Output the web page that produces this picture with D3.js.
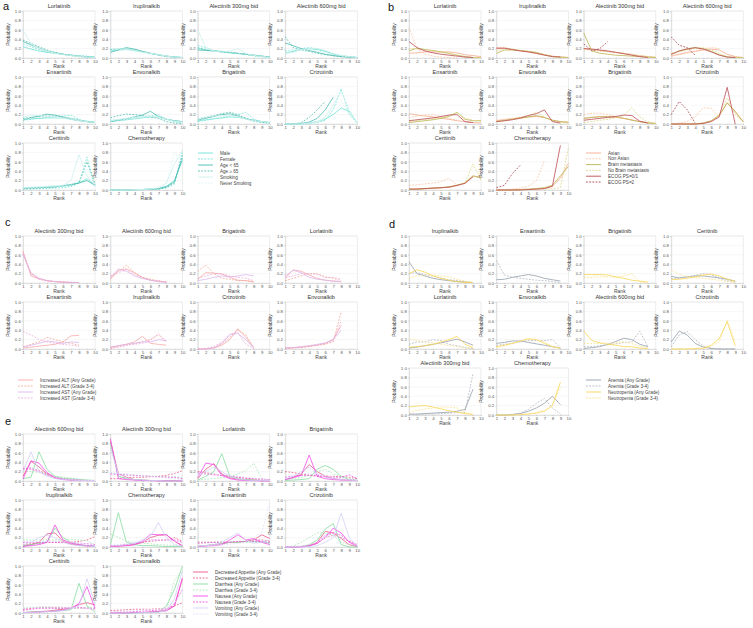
<!DOCTYPE html>
<html><head><meta charset="utf-8">
<script src="https://cdn.jsdelivr.net/npm/d3@7/dist/d3.min.js"></script>
<style>body{margin:0;background:#fff}svg{display:block;font-family:"Liberation Sans",Arial,sans-serif}</style>
</head><body><svg id="chart" width="753" height="628"></svg>
<script>
// ---------- tick labels ----------
const rankTicks = [1,2,3,4,5,6,7,8,9,10];
const probTicks = [0,0.2,0.4,0.6,0.8,1.0];

// ---------- panel a : subgroups ----------
const aDrugs = ["Lorlatinib","Iruplinalkib","Alectinib 300mg bid","Alectinib 600mg bid","Ensartinib","Envonalkib","Brigatinib","Crizotinib","Ceritinib","Chemotherapy"];
const aNames = ["Male","Female","Age < 65","Age \u2265 65","Smoking","Never Smoking"];
const aMale = [[0.24,0.19,0.15,0.12,0.10,0.08,0.06,0.04,0.03,0.02],[0.15,0.17,0.18,0.16,0.13,0.10,0.07,0.04,0.02,0.01],[0.20,0.17,0.15,0.13,0.11,0.10,0.08,0.06,0.04,0.02],[0.10,0.14,0.18,0.20,0.18,0.14,0.08,0.05,0.03,0.01],[0.10,0.11,0.12,0.13,0.13,0.13,0.12,0.08,0.06,0.04],[0.05,0.07,0.09,0.11,0.13,0.15,0.14,0.10,0.07,0.05],[0.07,0.09,0.11,0.13,0.15,0.14,0.12,0.08,0.05,0.03],[0,0,0,0.02,0.05,0.10,0.20,0.34,0.27,0.02],[0.04,0.05,0.05,0.06,0.07,0.09,0.11,0.15,0.24,0.10],[0,0,0,0.01,0.01,0.02,0.03,0.08,0.20,0.63]];
const aFemale = [[0.30,0.24,0.18,0.13,0.10,0.08,0.06,0.05,0.04,0.02],[0.18,0.19,0.20,0.17,0.14,0.10,0.06,0.04,0.02,0.01],[0.27,0.22,0.16,0.13,0.11,0.09,0.07,0.05,0.03,0.02],[0.15,0.15,0.20,0.22,0.20,0.15,0.08,0.04,0.02,0.01],[0.08,0.10,0.12,0.14,0.15,0.17,0.19,0.10,0.05,0.03],[0.07,0.09,0.11,0.13,0.15,0.17,0.20,0.10,0.05,0.02],[0.05,0.08,0.11,0.14,0.17,0.20,0.25,0.10,0.05,0.02],[0,0,0,0.01,0.03,0.08,0.30,0.75,0.20,0.02],[0.02,0.02,0.03,0.03,0.04,0.05,0.07,0.15,0.70,0.10],[0,0,0,0,0.01,0.01,0.02,0.05,0.12,0.82]];
const aAgeLow = [[0.35,0.28,0.21,0.15,0.11,0.08,0.06,0.04,0.02,0.01],[0.12,0.17,0.22,0.19,0.14,0.10,0.07,0.04,0.02,0.01],[0.17,0.16,0.15,0.13,0.12,0.10,0.08,0.06,0.04,0.02],[0.32,0.26,0.20,0.16,0.12,0.08,0.05,0.03,0.02,0.01],[0.09,0.13,0.17,0.21,0.19,0.15,0.10,0.07,0.05,0.03],[0.05,0.08,0.11,0.15,0.19,0.27,0.16,0.10,0.07,0.05],[0.08,0.12,0.16,0.20,0.22,0.17,0.11,0.08,0.05,0.03],[0,0,0.01,0.04,0.12,0.30,0.57],[0.04,0.05,0.05,0.06,0.07,0.09,0.12,0.15,0.20,0.10],[0,0,0,0.01,0.01,0.02,0.03,0.07,0.18,0.68]];
const aAgeHigh = [[0.38,0.31,0.24,0.17,0.12,0.08,0.05,0.03,0.02,0.01],[0.17,0.19,0.21,0.18,0.14,0.10,0.06,0.03,0.02,0.01],[0.22,0.18,0.16,0.14,0.12,0.10,0.08,0.05,0.03,0.02],[0.45,0.22,0.17,0.14,0.10,0.07,0.05,0.03,0.02,0.01],[0.12,0.14,0.16,0.17,0.17,0.15,0.12,0.08,0.05,0.03],[0.13,0.18,0.21,0.20,0.18,0.15,0.12,0.05,0.02,0.01],[0.10,0.14,0.18,0.22,0.25,0.20,0.12,0.06,0.03,0.02],[0,0,0.03,0.14,0.30,0.48],[0.03,0.03,0.04,0.05,0.06,0.08,0.10,0.15,0.60,0.12],[0,0,0,0,0.01,0.01,0.02,0.05,0.15,0.75]];
const aSmoking = [[0.60,0.30,0.20,0.15,0.10,0.07,0.05,0.03,0.02,0.01],[0.20,0.20,0.18,0.15,0.12,0.10,0.07,0.04,0.02,0.01],[0.60,0.22,0.15,0.12,0.15,0.20,0.10,0.05,0.03,0.01],[0.10,0.12,0.18,0.20,0.20,0.16,0.10,0.05,0.03,0.01],[0.15,0.18,0.18,0.17,0.15,0.12,0.10,0.07,0.05,0.03],[0.08,0.10,0.12,0.14,0.16,0.17,0.14,0.10,0.06,0.04],[0.12,0.15,0.17,0.18,0.18,0.15,0.10,0.07,0.05,0.03],[0,0,0,0.02,0.05,0.15,0.40,0.70,0.30,0.02],[0.05,0.06,0.07,0.08,0.09,0.10,0.20,0.75,0.30,0.10],[0,0,0,0.01,0.01,0.02,0.05,0.15,0.55,0.85]];
const aNever = [[0.30,0.25,0.20,0.15,0.10,0.08,0.06,0.04,0.02,0.01],[0.16,0.18,0.20,0.17,0.13,0.10,0.07,0.04,0.02,0.01],[0.25,0.20,0.15,0.13,0.12,0.10,0.08,0.06,0.03,0.02],[0.20,0.18,0.18,0.18,0.15,0.12,0.08,0.05,0.03,0.01],[0.10,0.12,0.14,0.15,0.15,0.14,0.12,0.08,0.05,0.04],[0.06,0.08,0.10,0.12,0.14,0.16,0.15,0.10,0.06,0.04],[0.08,0.10,0.12,0.15,0.17,0.16,0.12,0.08,0.05,0.03],[0,0,0,0.01,0.04,0.12,0.35,0.50,0.20,0.02],[0.04,0.05,0.05,0.06,0.07,0.08,0.12,0.20,0.45,0.10],[0,0,0,0,0.01,0.02,0.04,0.12,0.80,0.60]];

// ---------- panel b : subgroups ----------
const bDrugs = aDrugs;
const bNames = ["Asian","Non Asian","Brain metastasis","No Brain metastasis","ECOG PS=0/1","ECOG PS=2"];
const bAsian = [[0.10,0.11,0.13,0.13,0.13,0.13,0.11,0.07,0.05,0.03],[0.20,0.20,0.18,0.16,0.13,0.10,0.07,0.04,0.02,0.01],[0.20,0.18,0.16,0.14,0.12,0.10,0.07,0.05,0.03,0.01],[0.05,0.08,0.12,0.14,0.17,0.19,0.17,0.08,0.03,0.01],[0.22,0.19,0.17,0.15,0.12,0.10,0.07,0.05,0.03,0.02],[0.07,0.09,0.11,0.13,0.15,0.16,0.14,0.08,0.05,0.03],[0.12,0.14,0.16,0.15,0.14,0.12,0.09,0.05,0.03,0.01],[0,0,0,0,0.02,0.06,0.18,0.45,0.25,0.05],[0.02,0.02,0.03,0.04,0.05,0.06,0.09,0.15,0.30,0.25],[0,0,0,0.01,0.01,0.02,0.03,0.08,0.25,0.57]];
const bNonAsian = [[0.65,0.20,0.08,0.04,0.02,0.01,0.00],[0.22,0.23,0.18,0.15,0.12,0.09,0.06],[0.18,0.17,0.15,0.14,0.12,0.10,0.07],[0.03,0.07,0.10,0.15,0.20,0.22,0.20],[0.13,0.17,0.19,0.20,0.16,0.12,0.08],[0.08,0.10,0.12,0.14,0.16,0.17,0.13],[0.20,0.23,0.23,0.20,0.16,0.12,0.08],[0,0.02,0.05,0.15,0.35,0.33,0.15],[0.10,0.11,0.13,0.15,0.18,0.25,0.10],[0,0.01,0.02,0.04,0.08,0.20,0.62]];
const bBrain = [[0.15,0.21,0.18,0.16,0.13,0.10,0.06,0.03,0.01,0.01],[0.10,0.17,0.17,0.16,0.14,0.12,0.07,0.03,0.02,0.01],[0.53,0.15,0.10,0.08,0.06,0.05,0.04,0.03,0.02,0.01],[0.08,0.15,0.20,0.22,0.20,0.14,0.07,0.02,0.01,0.01],[0.03,0.05,0.07,0.09,0.12,0.16,0.25,0.10,0.07,0.07],[0.05,0.07,0.10,0.12,0.15,0.18,0.14,0.08,0.05,0.04],[0.12,0.14,0.15,0.16,0.15,0.12,0.08,0.05,0.02,0.01],[0,0,0,0,0.02,0.07,0.18,0.45,0.27,0.05],[0.01,0.02,0.03,0.04,0.05,0.07,0.10,0.15,0.30,0.27],[0,0,0,0.01,0.02,0.03,0.05,0.10,0.30,0.50]];
const bNoBrain = [[0.20,0.20,0.17,0.15,0.12,0.09,0.06,0.03,0.01,0.01],[0.15,0.20,0.19,0.16,0.14,0.11,0.07,0.03,0.02,0.01],[0.20,0.17,0.15,0.13,0.12,0.10,0.08,0.05,0.03,0.02],[0.10,0.13,0.17,0.20,0.22,0.17,0.10,0.03,0.01,0.01],[0.05,0.07,0.09,0.11,0.14,0.17,0.24,0.12,0.08,0.06],[0.06,0.08,0.11,0.14,0.18,0.25,0.15,0.06,0.03,0.02],[0.03,0.05,0.08,0.10,0.13,0.18,0.35,0.15,0.05,0.01],[0,0,0,0,0.02,0.06,0.20,0.55,0.20,0.04],[0.01,0.01,0.02,0.03,0.04,0.06,0.10,0.15,0.55,0.22],[0,0,0,0,0.01,0.01,0.02,0.03,0.05,0.90]];
const bEcog01 = [[0.35,0.22,0.15,0.11,0.08,0.06,0.04,0.02,0.01],[0.21,0.21,0.18,0.15,0.13,0.10,0.06,0.03,0.02],[0.20,0.19,0.17,0.15,0.12,0.09,0.06,0.03,0.01],[0.08,0.15,0.19,0.22,0.19,0.13,0.06,0.02,0.01],[0.07,0.09,0.11,0.13,0.16,0.19,0.20,0.05,0.03],[0.05,0.07,0.09,0.13,0.18,0.22,0.30,0.05,0.02],[0.08,0.10,0.12,0.14,0.16,0.19,0.18,0.06,0.02],[0,0,0,0,0.01,0.05,0.15,0.78,0.00],[0.02,0.02,0.03,0.04,0.05,0.06,0.10,0.14,0.28],[0,0,0,0,0.01,0.02,0.03,0.08,0.95]];
const bEcog2 = [null,null,[0.30,0.15,0.20,0.35],[0.45,0.27,0.22,0.06],null,null,null,[0.20,0.48,0.30,0.02],null,[0.05,0.10,0.35,0.53]];

// ---------- panel c : hepatotoxicity ----------
const cDrugs = ["Alectinib 300mg bid","Alectinib 600mg bid","Brigatinib","Lorlatinib","Ensartinib","Iruplinalkib","Crizotinib","Envonalkib"];
const cNames = ["Increased ALT (Any Grade)","Increased ALT (Grade 3-4)","Increased AST (Any Grade)","Increased AST (Grade 3-4)"];
const cAltAny = [[0.68,0.15,0.09,0.05,0.03,0.02,0.01,0.01],[0.08,0.27,0.30,0.22,0.12,0.06,0.04,0.02],[0.08,0.22,0.21,0.19,0.12,0.06,0.05,0.02],[0.10,0.28,0.25,0.17,0.10,0.06,0.04,0.03],[0.02,0.04,0.06,0.08,0.10,0.15,0.28,0.29],[0.03,0.07,0.10,0.15,0.27,0.12,0.10,0.08],[0,0,0.02,0.08,0.20,0.43,0.25,0.03],[0.02,0.03,0.04,0.06,0.08,0.12,0.20,0.50]];
const cAlt34 = [[0.62,0.20,0.10,0.05,0.03,0.02,0.01,0.01],[0.10,0.25,0.38,0.22,0.12,0.08,0.05,0.02],[0.25,0.38,0.20,0.10,0.08,0.05,0.05,0.03],[0.05,0.10,0.15,0.20,0.20,0.13,0.10,0.05],[0.05,0.10,0.15,0.25,0.20,0.15,0.12,0.08],[0.02,0.05,0.08,0.12,0.15,0.20,0.30,0.15],[0,0.01,0.03,0.10,0.25,0.40,0.30,0.02],[0.01,0.02,0.03,0.05,0.08,0.10,0.15,0.80]];
const cAstAny = [[0.60,0.22,0.10,0.05,0.03,0.02,0.01,0.01],[0.12,0.30,0.25,0.15,0.10,0.06,0.03,0.01],[0.05,0.08,0.12,0.15,0.13,0.15,0.18,0.15],[0.15,0.27,0.22,0.12,0.08,0.06,0.04,0.03],[0.04,0.08,0.12,0.17,0.15,0.12,0.15,0.14],[0.04,0.07,0.10,0.12,0.15,0.15,0.20,0.18],[0,0,0.02,0.12,0.30,0.33,0.20,0.02],[0.02,0.03,0.05,0.07,0.10,0.13,0.20,0.40]];
const cAst34 = [[0.65,0.18,0.08,0.04,0.03,0.02,0.02,0.01],[0.15,0.22,0.28,0.18,0.10,0.06,0.04,0.02],[0.10,0.15,0.20,0.20,0.15,0.12,0.10,0.05],[0.12,0.15,0.20,0.20,0.18,0.12,0.12,0.08],[0.37,0.30,0.20,0.15,0.12,0.10,0.08,0.06],[0.01,0.04,0.08,0.10,0.12,0.18,0.33,0.15],[0,0.01,0.05,0.15,0.32,0.35,0.10,0.01],[0.02,0.03,0.04,0.06,0.08,0.12,0.18,0.60]];

// ---------- panel d : haematological ----------
const dDrugs = ["Iruplinalkib","Ensartinib","Brigatinib","Ceritinib","Lorlatinib","Envonalkib","Alectinib 600mg bid","Crizotinib","Alectinib 300mg bid","Chemotherapy"];
const dNames = ["Anemia (Any Grade)","Anemia (Grade 3-4)","Neutropenia (Any Grade)","Neutropenia (Grade 3-4)"];
const dAnemiaAny = [[0.45,0.20,0.15,0.10,0.07,0.05,0.03,0.02,0.01],[0.07,0.08,0.12,0.15,0.18,0.15,0.10,0.07,0.04],null,[0.14,0.11,0.13,0.15,0.15,0.13,0.11,0.08,0.04],[0.02,0.04,0.07,0.10,0.13,0.17,0.21,0.15,0.08],[0.12,0.14,0.17,0.17,0.14,0.11,0.08,0.05,0.02],[0.01,0.03,0.05,0.10,0.16,0.23,0.20,0.10,0.05],[0.15,0.38,0.30,0.12,0.04,0.01,0,0,0],[0.02,0.02,0.03,0.04,0.05,0.06,0.08,0.12,0.55],[0,0,0.01,0.03,0.08,0.15,0.25,0.40,0.22]];
const dAnemia34 = [[0.20,0.22,0.18,0.15,0.10,0.07,0.05,0.03,0.01],[0.48,0.17,0.12,0.10,0.08,0.06,0.05,0.03,0.01],null,[0.09,0.10,0.13,0.16,0.20,0.18,0.10,0.05,0.02],[0.10,0.15,0.15,0.20,0.18,0.10,0.07,0.03,0.01],[0.08,0.10,0.12,0.15,0.18,0.18,0.18,0.20,0.02],[0.05,0.05,0.07,0.09,0.11,0.14,0.15,0.38,0.05],[0.05,0.30,0.37,0.20,0.06,0.02,0,0,0],[0.01,0.01,0.02,0.02,0.03,0.04,0.05,0.06,0.88],[0,0,0.01,0.04,0.12,0.25,0.35,0.15,0.02]];
const dNeutroAny = [[0.20,0.28,0.23,0.15,0.10,0.06,0.03,0.01,0.01],null,[0.18,0.18,0.18,0.17,0.13,0.10,0.06,0.04,0.02],[0.07,0.08,0.10,0.13,0.17,0.19,0.15,0.08,0.04],[0.04,0.05,0.07,0.10,0.15,0.20,0.27,0.10,0.03],[0.05,0.08,0.12,0.17,0.22,0.20,0.12,0.05,0.02],[0.38,0.18,0.13,0.10,0.08,0.05,0.05,0.02,0.01],[0,0,0,0.01,0.02,0.08,0.22,0.58,0.07],[0.17,0.19,0.20,0.17,0.13,0.09,0.06,0.03,0.01],[0,0,0,0.01,0.02,0.04,0.08,0.20,0.70]];
const dNeutro34 = [[0.10,0.15,0.17,0.17,0.15,0.13,0.08,0.04,0.01],null,[0.12,0.12,0.13,0.13,0.12,0.15,0.20,0.02,0.01],[0.28,0.18,0.14,0.12,0.10,0.08,0.06,0.03,0.01],[0.22,0.18,0.15,0.13,0.10,0.07,0.05,0.03,0.01],[0.03,0.07,0.12,0.17,0.20,0.20,0.15,0.05,0.01],[0.12,0.12,0.12,0.12,0.13,0.15,0.12,0.06,0.03],[0,0,0,0,0.01,0.05,0.15,0.62,0.15],[0.05,0.10,0.13,0.15,0.17,0.17,0.15,0.05,0.02],[0,0,0,0.01,0.02,0.05,0.10,0.20,0.60]];

// ---------- panel e : gastrointestinal ----------
const eDrugs = ["Alectinib 600mg bid","Alectinib 300mg bid","Lorlatinib","Brigatinib","Iruplinalkib","Chemotherapy","Ensartinib","Crizotinib","Ceritinib","Envonalkib"];
const eNames = ["Decreased Appetite (Any Grade)","Decreased Appetite (Grade 3-4)","Diarrhea (Any Grade)","Diarrhea (Grade 3-4)","Nausea (Any Grade)","Nausea (Grade 3-4)","Vomiting (Any Grade)","Vomiting (Grade 3-4)"];
const eAppAny = [[0.10,0.42,0.30,0.15,0.07,0.04,0.02,0.01,0.01,0.01],[0.85,0.15,0.08,0.03,0.02,0.01,0.01,0.01,0.01,0],[0.05,0.25,0.37,0.15,0.07,0.04,0.03,0.02,0.01,0.01],[0.03,0.08,0.15,0.35,0.20,0.10,0.05,0.03,0.02,0.01],[0.02,0.05,0.10,0.28,0.30,0.12,0.06,0.04,0.02,0.01],[0.01,0.02,0.03,0.05,0.10,0.20,0.25,0.26,0.12,0.03],[0.02,0.03,0.05,0.07,0.10,0.10,0.12,0.15,0.26,0.18],[0,0,0.01,0.03,0.10,0.33,0.30,0.18,0.05,0.01],[0.01,0.02,0.03,0.04,0.06,0.08,0.10,0.18,0.22,0.17],[0,0,0,0.01,0.01,0.02,0.03,0.05,0.15,0.72]];
const eApp34 = [[0.25,0.28,0.22,0.15,0.08,0.05,0.03,0.02,0.01,0.01],[0.05,0.05,0.07,0.08,0.08,0.09,0.10,0.12,0.16,0.22],[0.20,0.18,0.15,0.12,0.10,0.08,0.06,0.05,0.04,0.02],[0.20,0.18,0.15,0.12,0.10,0.10,0.10,0.09,0.08,0.05],[0.05,0.07,0.08,0.10,0.10,0.10,0.10,0.12,0.15,0.22],[0.02,0.03,0.05,0.07,0.10,0.12,0.14,0.15,0.20,0.12],[0.10,0.10,0.10,0.10,0.10,0.10,0.12,0.15,0.15,0.12],[0,0,0.01,0.03,0.08,0.20,0.25,0.20,0.12,0.05],[0.08,0.10,0.12,0.12,0.12,0.12,0.10,0.10,0.10,0.10],[0.05,0.06,0.07,0.08,0.08,0.08,0.09,0.10,0.15,0.22]];
const eDiaAny = [[0.05,0.08,0.62,0.25,0.10,0.06,0.05,0.03,0.02,0.01],[0.80,0.10,0.05,0.03,0.02,0.01,0.01,0,0,0],[0.02,0.10,0.20,0.58,0.10,0.05,0.03,0.02,0.01,0.01],[0.01,0.02,0.03,0.05,0.25,0.33,0.25,0.10,0.03,0.01],[0.03,0.05,0.08,0.10,0.40,0.20,0.10,0.05,0.03,0.02],[0.05,0.73,0.10,0.05,0.03,0.03,0.02,0.01,0.01,0.01],[0.02,0.03,0.05,0.07,0.10,0.10,0.12,0.12,0.10,0.08],[0,0,0.01,0.05,0.15,0.38,0.50,0.05,0,0],[0.01,0.02,0.03,0.03,0.04,0.05,0.07,0.63,0.15,0.02],[0,0,0,0,0.01,0.01,0.02,0.15,0.50,1.00]];
const eDia34 = [[0.22,0.20,0.18,0.15,0.10,0.08,0.06,0.04,0.02,0.01],[0.17,0.15,0.13,0.12,0.11,0.10,0.10,0.09,0.09,0.08],[0.02,0.04,0.05,0.07,0.10,0.15,0.22,0.38,0.05,0.01],[0.03,0.05,0.08,0.12,0.20,0.25,0.15,0.10,0.05,0.02],[0.15,0.15,0.15,0.15,0.15,0.15,0.16,0.15,0.13,0.05],[0.28,0.20,0.12,0.10,0.08,0.07,0.05,0.04,0.03,0.02],[0.10,0.10,0.10,0.10,0.10,0.10,0.10,0.10,0.10,0.10],[0,0.02,0.10,0.20,0.30,0.30,0.25,0.10,0.05,0.02],[0.10,0.12,0.12,0.12,0.10,0.10,0.10,0.10,0.12,0.10],[0,0,0,0,0.01,0.01,0.02,0.05,0.70,0.90]];
const eNauAny = [[0.04,0.43,0.38,0.18,0.07,0.03,0.02,0.01,0.01,0.01],[0.90,0.05,0.03,0.02,0.01,0.01,0,0,0,0],[0.08,0.38,0.35,0.12,0.05,0.02,0.01,0.01,0,0],[0.03,0.07,0.12,0.55,0.10,0.05,0.03,0.02,0.02,0.01],[0.01,0.03,0.05,0.10,0.47,0.15,0.08,0.05,0.03,0.02],[0.01,0.02,0.03,0.05,0.12,0.27,0.26,0.26,0.13,0.02],[0.01,0.02,0.03,0.05,0.15,0.26,0.15,0.18,0.10,0.05],[0,0,0,0.02,0.08,0.20,0.40,0.30,0.10,0.02],[0.01,0.01,0.02,0.03,0.04,0.06,0.10,0.20,0.56,0.10],[0,0,0,0.01,0.01,0.02,0.03,0.05,0.15,0.75]];
const eNau34 = [[0.27,0.25,0.20,0.12,0.07,0.04,0.03,0.02,0.01,0.01],[0.15,0.14,0.13,0.12,0.11,0.10,0.09,0.08,0.08,0.05],[0.17,0.15,0.13,0.12,0.10,0.08,0.06,0.05,0.04,0.03],[0.08,0.10,0.12,0.12,0.12,0.10,0.08,0.08,0.13,0.05],[0.10,0.10,0.10,0.10,0.10,0.10,0.10,0.08,0.07,0.05],[0.02,0.03,0.05,0.07,0.10,0.15,0.15,0.15,0.15,0.10],[0.08,0.09,0.10,0.10,0.10,0.12,0.12,0.12,0.12,0.10],[0,0,0.01,0.03,0.08,0.25,0.30,0.25,0.12,0.05],[0.06,0.08,0.10,0.10,0.10,0.10,0.12,0.12,0.10,0.08],[0.01,0.02,0.02,0.03,0.04,0.05,0.06,0.08,0.20,0.50]];
const eVomAny = [[0.20,0.62,0.20,0.10,0.05,0.03,0.02,0.01,0.01,0.01],[0.70,0.15,0.07,0.03,0.02,0.01,0.01,0,0,0],[0.10,0.20,0.30,0.20,0.10,0.05,0.02,0.01,0.01,0.01],[0.05,0.10,0.20,0.30,0.15,0.08,0.05,0.03,0.02,0.01],[0.05,0.10,0.20,0.25,0.20,0.10,0.05,0.03,0.02,0.01],[0.02,0.03,0.05,0.08,0.15,0.22,0.52,0.20,0.05,0.02],[0.02,0.03,0.05,0.10,0.20,0.30,0.15,0.08,0.10,0.15],[0,0,0,0.01,0.03,0.10,0.20,0.72,0.20,0.02],[0.01,0.01,0.02,0.03,0.04,0.05,0.10,0.15,0.73,0.20],[0,0,0,0,0.01,0.01,0.02,0.05,0.30,0.90]];
const eVom34 = [[0.30,0.30,0.20,0.12,0.08,0.05,0.03,0.02,0.01,0.01],[0.18,0.16,0.15,0.13,0.12,0.10,0.08,0.06,0.05,0.03],[0.15,0.15,0.15,0.13,0.12,0.10,0.08,0.06,0.04,0.02],[0.10,0.12,0.15,0.17,0.15,0.12,0.08,0.05,0.03,0.02],[0.12,0.12,0.12,0.12,0.12,0.12,0.10,0.08,0.06,0.04],[0.05,0.05,0.08,0.10,0.12,0.15,0.15,0.15,0.12,0.08],[0.02,0.03,0.04,0.05,0.06,0.08,0.10,0.15,0.30,0.95],[0,0.01,0.02,0.05,0.10,0.20,0.25,0.20,0.15,0.05],[0.10,0.12,0.13,0.14,0.13,0.12,0.12,0.10,0.10,0.08],[0.02,0.03,0.04,0.05,0.06,0.07,0.08,0.10,0.20,0.50]];

// ---------- layout / styles ----------
const PW = 72, PH = 47, COLP = 87.4, ROWP = 66;
const SOLID = null, DASH = "1.8,1.4";
const panels = [
  {label:"a", lx:3, ly:10, ox:0, oy:0, drugs:aDrugs, names:aNames,
   data:[aMale,aFemale,aAgeLow,aAgeHigh,aSmoking,aNever],
   colors:["#6ee2d6","#6ee2d6","#4bbcb0","#4bbcb0","#cdf0ed","#d8f4f1"], dash:[SOLID,DASH,SOLID,DASH,SOLID,DASH],
   leg:{x:198, y:153, step:6}},
  {label:"b", lx:388, ly:11, ox:386, oy:0, drugs:bDrugs, names:bNames,
   data:[bAsian,bNonAsian,bBrain,bNoBrain,bEcog01,bEcog2],
   colors:["#f6aa8c","#f9c3a5","#bbb452","#d9d680","#bd4c55","#a8444c"], dash:[SOLID,DASH,SOLID,DASH,SOLID,DASH],
   leg:{x:586, y:153, step:5.8}},
  {label:"c", lx:5, ly:226, ox:0, oy:225, drugs:cDrugs, names:cNames,
   data:[cAltAny,cAlt34,cAstAny,cAst34],
   colors:["#f8a8aa","#f4a694","#dcb6ee","#ecaad9"], dash:[SOLID,DASH,SOLID,DASH],
   leg:{x:18, y:380, step:6}},
  {label:"d", lx:389, ly:228, ox:386, oy:225, drugs:dDrugs, names:dNames,
   data:[dAnemiaAny,dAnemia34,dNeutroAny,dNeutro34],
   colors:["#949eaa","#adb5bf","#f9d550","#fae18c"], dash:[SOLID,DASH,SOLID,DASH],
   leg:{x:586, y:380, step:6}},
  {label:"e", lx:5, ly:425, ox:0, oy:423, drugs:eDrugs, names:eNames,
   data:[eAppAny,eApp34,eDiaAny,eDia34,eNauAny,eNau34,eVomAny,eVom34],
   colors:["#ec5884","#ec5884","#88dba0","#a8e6b8","#f24aea","#f24aea","#d2d2f7","#dedef9"], dash:[SOLID,DASH,SOLID,DASH,SOLID,DASH,SOLID,DASH],
   leg:{x:193, y:572, step:6}}
];

const svg = d3.select("#chart");
const TXT = "#555";

panels.forEach(p => {
  svg.append("text").attr("x", p.lx).attr("y", p.ly).attr("font-size", 11).attr("fill", "#111").text(p.label);
  p.drugs.forEach((drug, i) => {
    const col = i % 4, row = Math.floor(i / 4);
    const left = p.ox + 23 + col * COLP, top = p.oy + 11 + row * ROWP;
    const x = d3.scaleLinear().domain([1, 10]).range([left, left + PW]);
    const y = d3.scaleLinear().domain([0, 1]).range([top + PH, top]);
    const g = svg.append("g");
    g.selectAll("line.grid").data(probTicks.slice(1)).join("line")
      .attr("x1", left).attr("x2", left + PW).attr("y1", d => y(d)).attr("y2", d => y(d))
      .attr("stroke", "#efefef").attr("stroke-width", 0.5);
    g.append("rect").attr("x", left).attr("y", top).attr("width", PW).attr("height", PH)
      .attr("fill", "none").attr("stroke", "#e2e2e2").attr("stroke-width", 0.6);
    const xa = g.append("g").attr("transform", `translate(0,${top + PH})`)
      .call(d3.axisBottom(x).tickValues(rankTicks).tickSize(1.2).tickPadding(1).tickFormat(d3.format("d")));
    const ya = g.append("g").attr("transform", `translate(${left},0)`)
      .call(d3.axisLeft(y).tickValues(probTicks).tickSize(1.2).tickPadding(1).tickFormat(d3.format(".1f")));
    [xa, ya].forEach(a => {
      a.select(".domain").attr("stroke", "#d2d2d2").attr("stroke-width", 0.6);
      a.selectAll(".tick line").attr("stroke", "#bbb").attr("stroke-width", 0.5);
      a.selectAll(".tick text").attr("font-size", 4.3).attr("fill", TXT).attr("font-family", "Liberation Sans, Arial, sans-serif");
    });
    g.append("text").attr("x", left + PW / 2).attr("y", top - 3).attr("text-anchor", "middle")
      .attr("font-size", 5.6).attr("fill", "#333").text(drug);
    g.append("text").attr("x", left + PW / 2).attr("y", top + PH + 10).attr("text-anchor", "middle")
      .attr("font-size", 5).attr("fill", "#444").text("Rank");
    g.append("text").attr("transform", `translate(${left - 13},${top + PH / 2}) rotate(-90)`)
      .attr("text-anchor", "middle").attr("font-size", 4.8).attr("fill", "#444").text("Probability");
    const line = d3.line().x((d, k) => x(rankTicks[k])).y(d => y(d));
    p.data.forEach((series, s) => {
      const vals = series[i];
      if (!vals) return;
      g.append("path").attr("d", line(vals)).attr("fill", "none")
        .attr("stroke", p.colors[s]).attr("stroke-width", 0.8)
        .attr("stroke-dasharray", p.dash[s]);
    });
  });
  p.names.forEach((n, s) => {
    const yy = p.leg.y + s * p.leg.step;
    svg.append("line").attr("x1", p.leg.x).attr("x2", p.leg.x + 15).attr("y1", yy).attr("y2", yy)
      .attr("stroke", p.colors[s]).attr("stroke-width", 0.9).attr("stroke-dasharray", p.dash[s]);
    svg.append("text").attr("x", p.leg.x + 22).attr("y", yy + 1.5).attr("font-size", 4.6).attr("fill", "#444").text(n);
  });
});
</script></body></html>
